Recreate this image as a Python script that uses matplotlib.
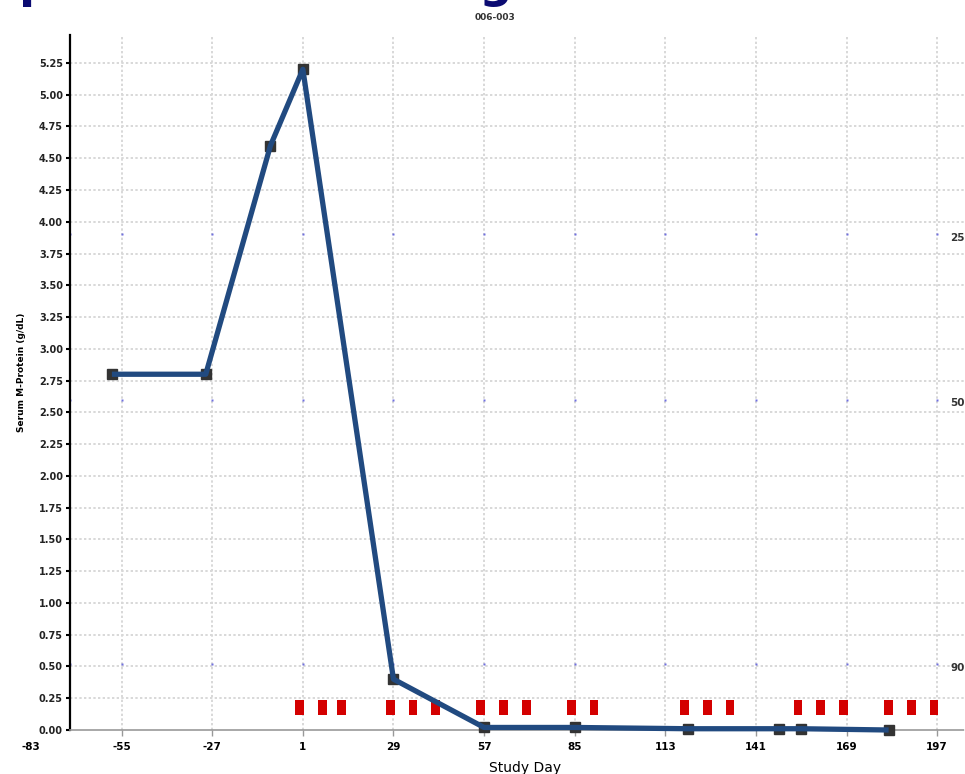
import matplotlib.pyplot as plt
import numpy as np

# Serum M-protein results by study day
study_days = [-58, -29, -9, 1, 29, 57, 85, 120, 148, 155, 182]
m_protein = [2.80, 2.80, 4.60, 5.20, 0.40, 0.02, 0.02, 0.01, 0.01, 0.01, 0.00]

# Dosing days (red markers along the bottom)
dose_days = [0, 7, 13, 28, 35, 42, 56, 63, 70, 84, 91,
             119, 126, 133, 154, 161, 168, 182, 189, 196]

# Percent reduction from baseline reference levels
baseline = 5.20
reductions = [25, 50, 90]

x_ticks = [-83, -55, -27, 1, 29, 57, 85, 113, 141, 169, 197]
y_ticks = np.arange(0, 5.26, 0.25)

x_min, x_max = -83, 205.6
y_min, y_max = 0, 5.47
y_axis_at = -71

fig = plt.figure(figsize=(9.65, 7.74), dpi=100)
ax = fig.add_axes([31 / 965, 44 / 774, 934 / 965, 695 / 774])
ax.set_xlim(x_min, x_max)
ax.set_ylim(y_min, y_max)

# === Grid (dotted, starts at the y axis) ===
grid_style = dict(color='#d8d8d8', linestyle=(0, (1.2, 1.2)), linewidth=1.4, zorder=0)
ax.hlines(y_ticks[1:], y_axis_at, x_max, **grid_style)
ax.vlines(x_ticks[1:], y_min, y_max, **grid_style)

# === Reference levels: 25 / 50 / 90 % reduction ===
for r in reductions:
    level = baseline * (1 - r / 100)
    ax.plot([y_axis_at] + x_ticks[1:], [level] * len(x_ticks), ls='none',
            marker='s', ms=1.6, color='#7070e0', mec='none', zorder=1)
    ax.text(203.2, level - 0.03, f"{r}", ha='center', va='center',
            fontsize=7.5, fontweight='bold', color='#333333')

# === Dosing markers ===
ax.bar(dose_days, 0.115, bottom=0.12, width=2.7, color='#d40000', zorder=2)

# === M-protein series ===
ax.plot(study_days, m_protein, ls='none', marker='s', ms=7,
        color='#333333', zorder=3, clip_on=False)
ax.plot(study_days, m_protein, color='#214a80', linewidth=3.8,
        solid_capstyle='butt', zorder=4, clip_on=False)

# === Axes ===
for side in ('top', 'right'):
    ax.spines[side].set_visible(False)
ax.spines['left'].set_position(('data', y_axis_at))
ax.spines['left'].set_linewidth(1.6)
ax.spines['left'].set_color('black')
ax.spines['bottom'].set_bounds(y_axis_at, x_max)
ax.spines['bottom'].set_color('#999999')
ax.spines['bottom'].set_linestyle((0, (2, 1)))
ax.spines['bottom'].set_linewidth(1.2)

ax.set_xticks(x_ticks)
ax.set_xticklabels([str(t) for t in x_ticks], fontsize=7.5, fontweight='bold')
ax.set_yticks(y_ticks)
ax.set_yticklabels([f"{v:.2f}" for v in y_ticks], fontsize=7, fontweight='bold',
                   color='#222222')
ax.tick_params(axis='x', length=4, width=1, color='#999999', pad=5)
ax.tick_params(axis='y', length=3, width=1.5, color='black', pad=2)
# first x tick sits left of the y axis: label only, no tick mark
ax.xaxis.get_major_ticks()[0].tick1line.set_visible(False)

fig.text(525 / 965, 6 / 774, "Study Day", ha='center', va='center', fontsize=10)
fig.text(22 / 965, 1 - 372 / 774, "Serum M-Protein (g/dL)", rotation=90,
         ha='center', va='center', fontsize=6.5, fontweight='bold')

# === Title (runs off the top edge) and subject id ===
fig.text(-232 / 965, 1 + 3 / 774, "Serum M-protein Monitoring", ha='left',
         va='baseline', fontsize=33.5, fontweight='bold', color='#0b0b72')
fig.text(495 / 965, 1 - 18 / 774, "006-003", ha='center', va='center',
         fontsize=6.5, fontweight='bold', color='#333333')

fig.savefig("out.png", dpi=100)
